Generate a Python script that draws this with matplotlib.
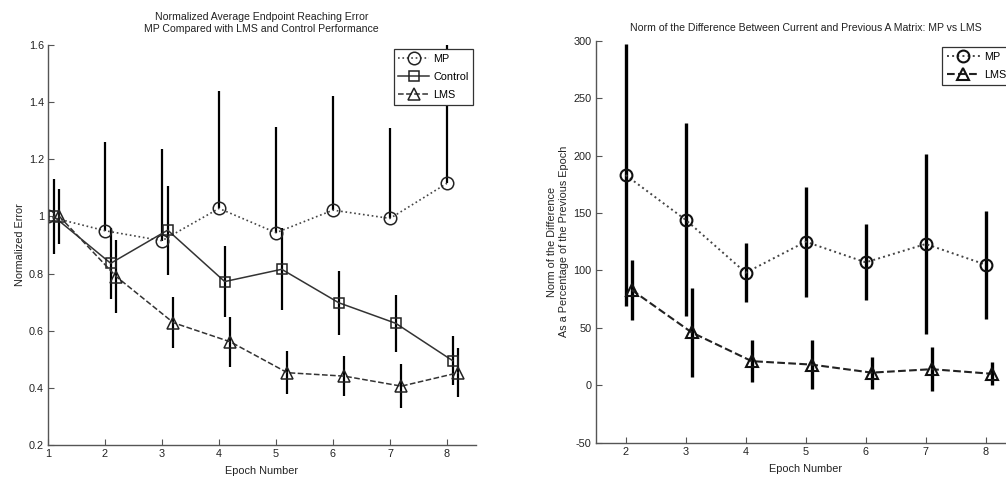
import numpy as np
import matplotlib.pyplot as plt
from matplotlib.ticker import FormatStrFormatter

# left panel: normalized endpoint reaching error
epochs = np.array([1, 2, 3, 4, 5, 6, 7, 8])
mp_err = [1.0, 0.95, 0.915, 1.028, 0.943, 1.022, 0.993, 1.116]
mp_err_up = [0.0, 0.31, 0.32, 0.41, 0.37, 0.40, 0.315, 0.495]
ctrl_err = [1.0, 0.836, 0.952, 0.772, 0.815, 0.698, 0.626, 0.495]
ctrl_sd = [0.13, 0.125, 0.156, 0.123, 0.143, 0.112, 0.10, 0.086]
lms_err = [1.0, 0.789, 0.628, 0.561, 0.453, 0.441, 0.406, 0.453]
lms_sd = [0.095, 0.127, 0.09, 0.088, 0.075, 0.069, 0.078, 0.086]

# right panel: norm of difference between A matrices (%)
epochs2 = np.array([2, 3, 4, 5, 6, 7, 8])
mp_norm = [183, 144, 98, 125, 107, 123, 105]
mp_norm_sd = [114, 84, 25.5, 48, 33, 78, 47]
lms_norm = [83, 46, 21, 18, 11, 14, 10]
lms_norm_sd = [26, 39, 18, 21, 14, 19, 10]

plt.rcParams['font.family'] = ['Liberation Sans', 'DejaVu Sans']
plt.rcParams['xtick.direction'] = 'in'
plt.rcParams['ytick.direction'] = 'in'
plt.rcParams['axes.unicode_minus'] = False
txt = '#222222'
spine_c = '#555555'
fs = 7.8

fig = plt.figure(figsize=(10.06, 4.79), dpi=100)


def style_axes(ax):
    for s in ['top', 'right']:
        ax.spines[s].set_visible(False)
    for s in ['left', 'bottom']:
        ax.spines[s].set_color(spine_c)
        ax.spines[s].set_linewidth(1.0)
    ax.tick_params(length=4, width=0.8, color=spine_c, labelsize=fs, labelcolor=txt, pad=3)


# ---- left plot
ax1 = fig.add_axes([48 / 1006, 34 / 479, 427.5 / 1006, 400 / 479])
style_axes(ax1)
ax1.errorbar(epochs, mp_err, yerr=[np.zeros(8), mp_err_up], fmt='none', ecolor='black', elinewidth=1.6)
ax1.errorbar(epochs + 0.1, ctrl_err, yerr=ctrl_sd, fmt='none', ecolor='black', elinewidth=1.6)
ax1.errorbar(epochs + 0.2, lms_err, yerr=lms_sd, fmt='none', ecolor='black', elinewidth=1.6)
ax1.plot(epochs, mp_err, ls=':', color='#444444', lw=1.2, marker='o', ms=9, mfc='none', mec='#222222', mew=1.1, label='MP')
ax1.plot(epochs + 0.1, ctrl_err, ls='-', color='#333333', lw=1.1, marker='s', ms=7.5, mfc='none', mec='#222222', mew=1.1, label='Control')
ax1.plot(epochs + 0.2, lms_err, ls='--', color='#333333', lw=1.1, marker='^', ms=8, mfc='none', mec='#222222', mew=1.1, label='LMS')
ax1.set_xlim(1, 8.5)
ax1.set_ylim(0.2, 1.6)
ax1.set_xticks(range(1, 9))
ax1.set_yticks([0.2, 0.4, 0.6, 0.8, 1.0, 1.2, 1.4, 1.6])
ax1.yaxis.set_major_formatter(FormatStrFormatter('%g'))
ax1.set_xlabel('Epoch Number', fontsize=fs, color=txt, labelpad=5)
ax1.set_ylabel('Normalized Error', fontsize=fs, color=txt, labelpad=3)
ax1.set_title('Normalized Average Endpoint Reaching Error\nMP Compared with LMS and Control Performance',
              fontsize=7.6, color=txt, pad=9, linespacing=1.35)
leg1 = ax1.legend(loc='upper right', bbox_to_anchor=(0.995, 0.99), fontsize=fs, handlelength=2.8,
                  labelspacing=0.75, borderpad=0.45, handletextpad=0.4, fancybox=False, framealpha=1,
                  edgecolor='#333333', borderaxespad=0)
leg1.get_frame().set_linewidth(0.9)

# ---- right plot
ax2 = fig.add_axes([595.7 / 1006, 36.3 / 479, 420 / 1006, 402 / 479])
style_axes(ax2)
ax2.errorbar(epochs2, mp_norm, yerr=mp_norm_sd, fmt='none', ecolor='black', elinewidth=2.4)
ax2.errorbar(epochs2 + 0.1, lms_norm, yerr=lms_norm_sd, fmt='none', ecolor='black', elinewidth=2.4)
ax2.plot(epochs2, mp_norm, ls=':', color='#444444', lw=1.4, marker='o', ms=8.5, mfc='none', mec='#111111', mew=1.5, label='MP')
ax2.plot(epochs2 + 0.1, lms_norm, ls='--', color='#222222', lw=1.5, marker='^', ms=8, mfc='none', mec='#111111', mew=1.5, label='LMS')
ax2.set_xlim(1.5, 8.5)
ax2.set_ylim(-50, 300)
ax2.set_xticks(range(2, 9))
ax2.set_yticks(range(-50, 301, 50))
ax2.set_xlabel('Epoch Number', fontsize=fs, color=txt, labelpad=5)
ax2.set_ylabel('Norm of the Difference\nAs a Percentage of the Previous Epoch', fontsize=fs, color=txt,
               labelpad=3, linespacing=1.25)
ax2.set_title('Norm of the Difference Between Current and Previous A Matrix: MP vs LMS',
              fontsize=7.6, color=txt, pad=7)
leg2 = ax2.legend(loc='upper left', bbox_to_anchor=(346.6 / 420, 0.985), fontsize=fs, handlelength=3.0,
                  labelspacing=0.75, borderpad=0.45, handletextpad=0.4, fancybox=False, framealpha=1,
                  edgecolor='#333333', borderaxespad=0)
leg2.get_frame().set_linewidth(0.9)

fig.savefig('out.png', dpi=100)
